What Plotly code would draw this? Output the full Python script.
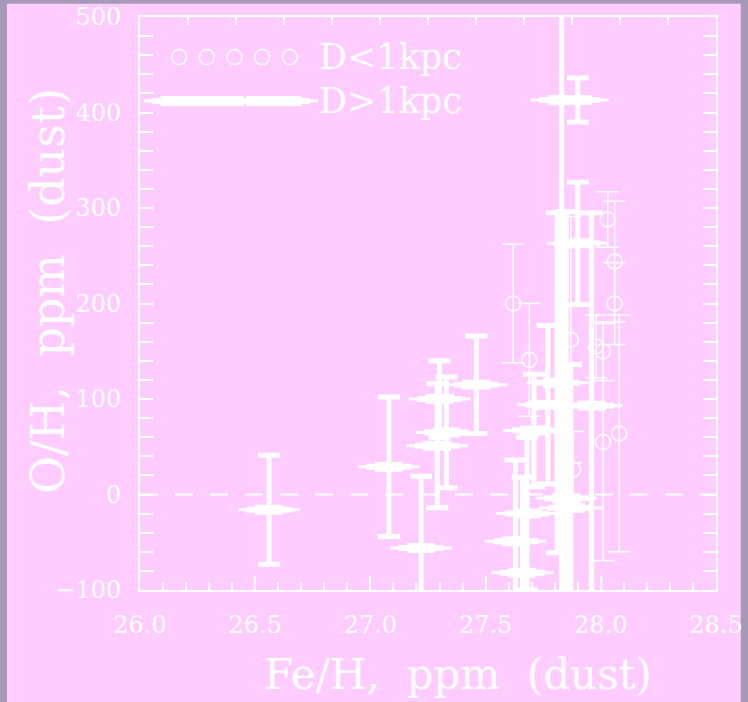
import plotly.graph_objects as go

# ---- data: D>1kpc (thick error bars, fuzzy markers)
far_fe = [26.56, 27.08, 27.22, 27.29, 27.30, 27.33, 27.46, 27.63, 27.66, 27.68,
          27.71, 27.77, 27.81, 27.83, 27.85, 27.87, 27.90, 27.90, 27.96]
far_oh = [-16, 29, -56, 51, 100, 65, 115, -49, -82, -20,
          67, 94, 117, 413, -4, -14, 413, 263, 93]
far_err = [57, 73, 75, 65, 40, 58, 51, 85, 100, 80,
           59, 83, 178, 600, 300, 150, 23, 64, 202]

# ---- data: D<1kpc (thin error bars, open circles)
near_fe = [27.62, 27.69, 27.87, 27.88, 27.98, 28.01, 28.01, 28.03, 28.06, 28.06, 28.08]
near_oh = [200, 141, 162, 26, 155, 150, 55, 288, 244, 200, 64]
near_err = [62, 59, 129, 40, 33, 31, 124, 29, 63, 43, 124]

x_ticks = [26.0, 26.5, 27.0, 27.5, 28.0, 28.5]
y_ticks = [-100, 0, 100, 200, 300, 400, 500]

# legend key sample positions (in data units)
leg_circle_x = [26.17, 26.29, 26.41, 26.53, 26.65]
leg_circle_y = 458
leg_fuzzy_x = [26.15, 26.27, 26.39, 26.52, 26.64]
leg_fuzzy_y = 412
leg_text_x = 26.77

PINK = "#FFCCFF"
BORDER = "#a898b8"
FONT = "DejaVu Serif"

# stacked horizontal bars -> tapered "fuzzy" spindle marker
fuzzy_layers = [(44, 3), (32, 6), (20, 10)]
circle_mk = dict(symbol="circle-open", size=15, color="white",
                 line=dict(color="white", width=1.5))


def fuzzy(size, width):
    return dict(symbol="line-ew", size=size, color="white",
                line=dict(color="white", width=width))


fig = go.Figure()

# thick error bars
fig.add_trace(go.Scatter(
    x=far_fe, y=far_oh, mode="markers", marker=fuzzy(*fuzzy_layers[0]),
    error_y=dict(type="data", array=far_err, visible=True,
                 color="white", thickness=5, width=11),
    showlegend=False, hoverinfo="skip"))
for s, w in fuzzy_layers[1:]:
    fig.add_trace(go.Scatter(x=far_fe, y=far_oh, mode="markers", marker=fuzzy(s, w),
                             showlegend=False, hoverinfo="skip"))

# thin error bars, open circles
fig.add_trace(go.Scatter(
    x=near_fe, y=near_oh, mode="markers", marker=circle_mk,
    error_y=dict(type="data", array=near_err, visible=True,
                 color="white", thickness=1.5, width=11),
    showlegend=False, hoverinfo="skip"))

# legend keys
fig.add_trace(go.Scatter(x=leg_circle_x, y=[leg_circle_y] * len(leg_circle_x),
                         mode="markers", marker=circle_mk,
                         showlegend=False, hoverinfo="skip"))
for s, w in fuzzy_layers:
    fig.add_trace(go.Scatter(x=leg_fuzzy_x, y=[leg_fuzzy_y] * len(leg_fuzzy_x),
                             mode="markers", marker=fuzzy(s, w),
                             showlegend=False, hoverinfo="skip"))

# top axis ticks (separate overlay axis)
fig.add_trace(go.Scatter(x=[0, 12], y=[0, 0], xaxis="x2", mode="markers",
                         marker=dict(opacity=0), showlegend=False, hoverinfo="skip"))

fig.add_annotation(x=leg_text_x, y=leg_circle_y, text="D&lt;1kpc", showarrow=False,
                   xanchor="left", yanchor="middle",
                   font=dict(family=FONT, size=35, color="white"))
fig.add_annotation(x=leg_text_x, y=leg_fuzzy_y, text="D&gt;1kpc", showarrow=False,
                   xanchor="left", yanchor="middle",
                   font=dict(family=FONT, size=35, color="white"))

# axis titles
fig.add_annotation(xref="paper", yref="paper", x=0.552, y=-0.148,
                   text="Fe/H,  ppm  (dust)", showarrow=False,
                   xanchor="center", yanchor="middle",
                   font=dict(family=FONT, size=42, color="white"))
fig.add_annotation(xref="paper", yref="paper", x=-0.16, y=0.522,
                   text="O/H,  ppm  (dust)", showarrow=False, textangle=-90,
                   xanchor="center", yanchor="middle",
                   font=dict(family=FONT, size=46, color="white"))

# dashed zero line
fig.add_shape(type="line", xref="paper", yref="y", x0=0, x1=1, y0=0, y1=0,
              line=dict(color="white", width=2, dash="18px,17px"))

# frame border
for (x0, x1, y0, y1) in [(-0.26, -0.231, -0.3, 1.1), (-0.26, 1.1, 1.023, 1.1),
                         (1.043, 1.1, -0.3, 1.1)]:
    fig.add_shape(type="rect", xref="paper", yref="paper",
                  x0=x0, x1=x1, y0=y0, y1=y1, line=dict(width=0),
                  fillcolor=BORDER, layer="below")

axis_common = dict(showgrid=False, zeroline=False, showline=True, automargin=False,
                   linecolor="white", linewidth=2, ticks="inside",
                   tickcolor="white", tickwidth=1.5,
                   tickfont=dict(family=FONT, size=24, color="white"))

fig.update_layout(
    width=748, height=702,
    margin=dict(l=140, r=32, t=17, b=112, autoexpand=False),
    paper_bgcolor=PINK, plot_bgcolor=PINK,
    xaxis=dict(range=[26.0, 28.5], tickvals=x_ticks,
               ticktext=[f"{v:.1f}" for v in x_ticks], ticklen=14,
               minor=dict(dtick=0.1, ticklen=8, tickcolor="white", ticks="inside",
                          tickwidth=1.5),
               mirror=True, ticklabelstandoff=12, **axis_common),
    xaxis2=dict(range=[0, 12], overlaying="x", side="top", dtick=1,
                showticklabels=False, ticklen=8, showline=False, automargin=False,
                showgrid=False, zeroline=False, ticks="inside",
                tickcolor="white", tickwidth=1.5),
    yaxis=dict(range=[-100, 500], tickvals=y_ticks, ticklen=13,
               minor=dict(dtick=20, ticklen=8, tickcolor="white", ticks="inside",
                          tickwidth=1.5),
               mirror="allticks", ticklabelstandoff=12, **axis_common),
)

fig.write_html("out.html")
